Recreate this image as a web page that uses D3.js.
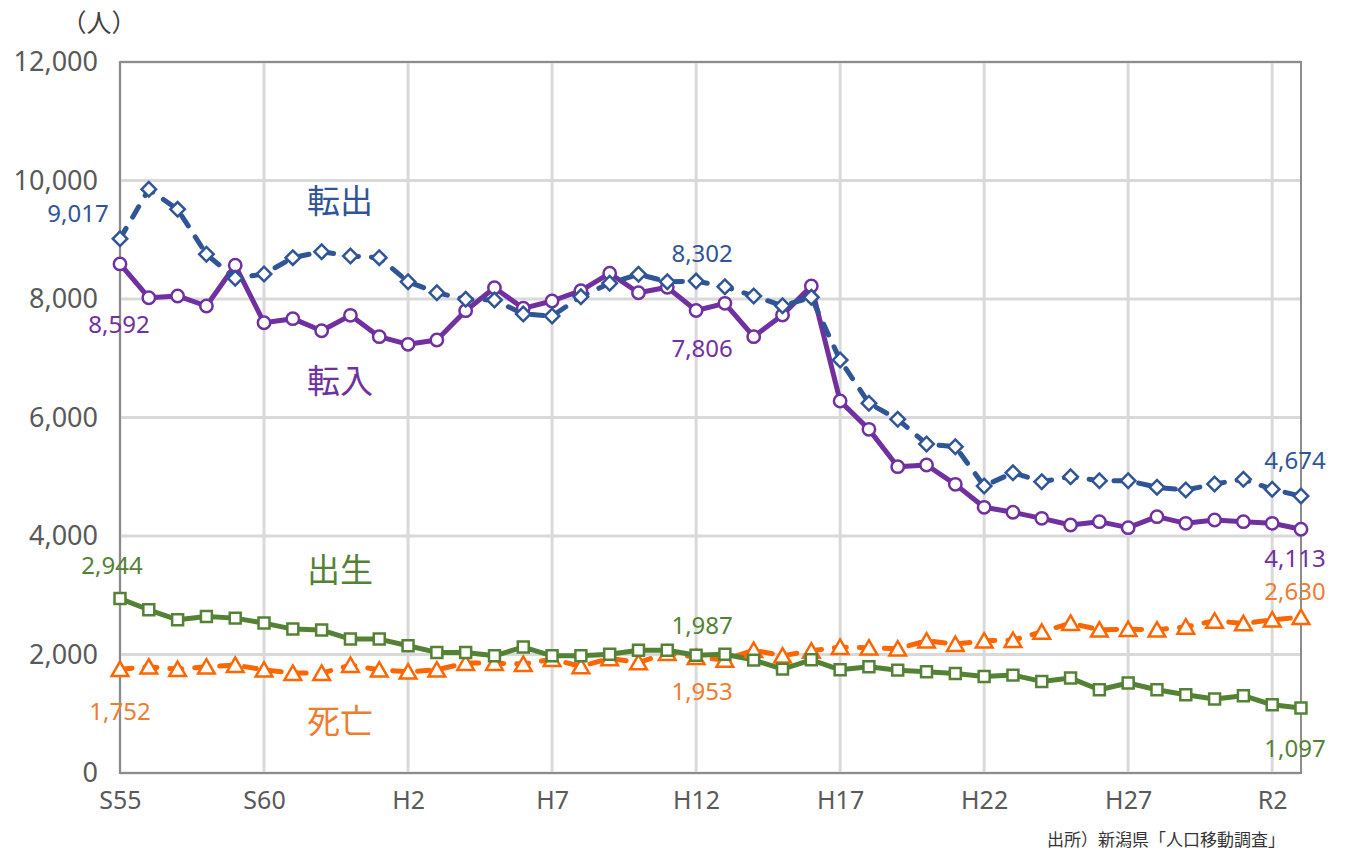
<!DOCTYPE html>
<html>
<head>
<meta charset="utf-8">
<script src="https://cdn.jsdelivr.net/npm/d3@7"></script>
<style>
  body { margin: 0; background: #fff; }
  text { font-family: "Noto Sans", "Noto Sans CJK JP", sans-serif; }
</style>
</head>
<body>
<div id="chart"></div>
<script>
// years S55 (1980) .. R3 (2021)
var years = d3.range(1980, 2022);
var tickYears = [1980, 1985, 1990, 1995, 2000, 2005, 2010, 2015, 2020];
var tickLabels = ["S55", "S60", "H2", "H7", "H12", "H17", "H22", "H27", "R2"];
var yTicks = [0, 2000, 4000, 6000, 8000, 10000, 12000];

var tenshutsu = [9017, 9851, 9513, 8754, 8349, 8422, 8698, 8799, 8726, 8698, 8292, 8106,
  7995, 7983, 7747, 7713, 8039, 8265, 8417, 8292, 8302, 8208, 8051, 7887, 8028,
  6970, 6240, 5970, 5553, 5508, 4844, 5068, 4917, 5001, 4934, 4934, 4822, 4776, 4878, 4957, 4788, 4674];
var tennyu = [8592, 8022, 8051, 7882, 8569, 7600, 7668, 7465, 7724, 7364, 7235, 7308,
  7803, 8191, 7843, 7966, 8141, 8434, 8106, 8197, 7806, 7927, 7364, 7730, 8219,
  6278, 5800, 5170, 5198, 4872, 4484, 4400, 4298, 4186, 4242, 4141, 4326, 4214, 4270, 4242, 4214, 4113];
var shussei = [2944, 2755, 2586, 2642, 2614, 2530, 2429, 2412, 2260, 2260, 2147, 2035, 2035, 1978,
  2125, 1978, 1978, 2005, 2073, 2073, 1987, 2005, 1905, 1753, 1910, 1742, 1793,
  1736, 1708, 1680, 1630, 1652, 1546, 1602, 1405, 1518, 1405, 1320, 1248, 1304, 1152, 1097];
var shibou = [1752, 1793, 1753, 1793, 1821, 1742, 1686, 1686, 1821, 1742, 1708, 1742, 1855, 1855,
  1838, 1922, 1799, 1933, 1866, 2023, 1953, 1910, 2073, 1978, 2062, 2125, 2113,
  2096, 2231, 2175, 2231, 2242, 2382, 2530, 2417, 2428, 2417, 2467, 2568, 2524, 2586, 2630];

var margin = { top: 62, left: 120, right: 44, bottom: 81 },
    width = 1345 - margin.left - margin.right,
    height = 854 - margin.top - margin.bottom;

var svg = d3.select("#chart")
  .append("svg")
  .attr("width", 1345)
  .attr("height", 854);

var g = svg.append("g")
  .attr("transform", "translate(" + margin.left + "," + margin.top + ")");

var x = d3.scaleLinear().domain([1980, 2021]).range([0, width]);
var y = d3.scaleLinear().domain([0, 12000]).range([height, 0]);

// grid
g.append("g")
  .selectAll("line.h")
  .data(yTicks)
  .enter().append("line")
  .attr("x1", 0).attr("x2", width)
  .attr("y1", function(d) { return y(d); })
  .attr("y2", function(d) { return y(d); })
  .attr("stroke", "#d9d9d9")
  .attr("stroke-width", 3);

g.append("g")
  .selectAll("line.v")
  .data(tickYears)
  .enter().append("line")
  .attr("x1", function(d) { return x(d); })
  .attr("x2", function(d) { return x(d); })
  .attr("y1", 0).attr("y2", height)
  .attr("stroke", "#d9d9d9")
  .attr("stroke-width", 3);

// plot border
g.append("rect")
  .attr("width", width).attr("height", height)
  .attr("fill", "none")
  .attr("stroke", "#8c8c8c")
  .attr("stroke-width", 2);

// axes (labels only)
var yAxis = g.append("g")
  .call(d3.axisLeft(y).tickValues(yTicks).tickSize(0).tickPadding(22).tickFormat(d3.format(",")));
yAxis.select(".domain").remove();
yAxis.selectAll("text")
  .attr("fill", "#595959")
  .style("font-size", "27px");

var xAxis = g.append("g")
  .attr("transform", "translate(0," + height + ")")
  .call(d3.axisBottom(x).tickValues(tickYears).tickSize(0).tickPadding(18)
    .tickFormat(function(d, i) { return tickLabels[i]; }));
xAxis.select(".domain").remove();
xAxis.selectAll("text")
  .attr("fill", "#595959")
  .style("font-size", "25px");

// series
var series = [
  { name: "死亡", values: shibou, color: "#ff6600", labelColor: "#ed7d31", dash: "12,13", symbol: d3.symbolTriangle, size: 120, rot: 0, off: 2 },
  { name: "出生", values: shussei, color: "#548235", labelColor: "#548235", dash: null, symbol: d3.symbolSquare, size: 120, rot: 0, off: 0 },
  { name: "転入", values: tennyu, color: "#7030a0", labelColor: "#7030a0", dash: null, symbol: d3.symbolCircle, size: 120, rot: 0, off: 0 },
  { name: "転出", values: tenshutsu, color: "#2f5597", labelColor: "#2f5597", dash: "12,13", symbol: d3.symbolSquare, size: 105, rot: 45, off: 0 }
];

var line = d3.line()
  .x(function(d, i) { return x(years[i]); })
  .y(function(d) { return y(d); });

g.selectAll(".series-line")
  .data(series)
  .enter().append("path")
  .attr("class", "series-line")
  .attr("d", function(d) { return line(d.values); })
  .attr("fill", "none")
  .attr("stroke", function(d) { return d.color; })
  .attr("stroke-width", 5)
  .attr("stroke-linecap", "round")
  .attr("stroke-linejoin", "round")
  .attr("stroke-dasharray", function(d) { return d.dash; });

series.forEach(function(s) {
  var sym = d3.symbol().type(s.symbol).size(s.size);
  g.append("g").selectAll("path")
    .data(s.values)
    .enter().append("path")
    .attr("d", sym)
    .attr("transform", function(d, i) {
      return "translate(" + x(years[i]) + "," + (y(d) + s.off) + ") rotate(" + s.rot + ")";
    })
    .attr("fill", "#fff")
    .attr("stroke", s.color)
    .attr("stroke-width", 2.5);
});

// data labels
var fmt = d3.format(",");
var labels = [
  { s: 3, year: 1980, dx: -42, dy: -17 },
  { s: 2, year: 1980, dx: -1, dy: 69 },
  { s: 3, year: 2000, dx: 6, dy: -19 },
  { s: 2, year: 2000, dx: 6, dy: 47 },
  { s: 3, year: 2021, dx: -6, dy: -27 },
  { s: 2, year: 2021, dx: -6, dy: 38 },
  { s: 1, year: 1980, dx: -8, dy: -25 },
  { s: 0, year: 1980, dx: 0, dy: 51 },
  { s: 1, year: 2000, dx: 6, dy: -21 },
  { s: 0, year: 2000, dx: 6, dy: 43 },
  { s: 0, year: 2021, dx: -6, dy: -17 },
  { s: 1, year: 2021, dx: -6, dy: 49 }
];

g.selectAll(".dlabel")
  .data(labels)
  .enter().append("text")
  .attr("class", "dlabel")
  .attr("x", function(d) { return x(d.year) + d.dx; })
  .attr("y", function(d) { return y(series[d.s].values[d.year - 1980]) + d.dy; })
  .attr("text-anchor", "middle")
  .attr("fill", function(d) { return series[d.s].labelColor; })
  .style("font-size", "24px")
  .text(function(d) { return fmt(series[d.s].values[d.year - 1980]); });

// series names
var names = [
  { s: 3, y: 213 }, { s: 2, y: 393 }, { s: 1, y: 582 }, { s: 0, y: 733 }
];
svg.selectAll(".sname")
  .data(names)
  .enter().append("text")
  .attr("x", 340)
  .attr("y", function(d) { return d.y; })
  .attr("text-anchor", "middle")
  .attr("fill", function(d) { return series[d.s].labelColor; })
  .style("font-family", "'Noto Sans CJK JP', sans-serif")
  .style("font-size", "33px")
  .text(function(d) { return series[d.s].name; });

// unit + source
svg.append("text")
  .attr("x", 99).attr("y", 32)
  .attr("text-anchor", "middle")
  .attr("fill", "#404040")
  .style("font-family", "'Noto Sans CJK JP', sans-serif")
  .style("font-size", "25px")
  .text("（人）");

svg.append("text")
  .attr("x", 1285).attr("y", 846)
  .attr("text-anchor", "end")
  .attr("fill", "#333")
  .style("font-family", "'Noto Sans CJK JP', sans-serif")
  .style("font-size", "17px")
  .text("出所）新潟県「人口移動調査」");
</script>
</body>
</html>
